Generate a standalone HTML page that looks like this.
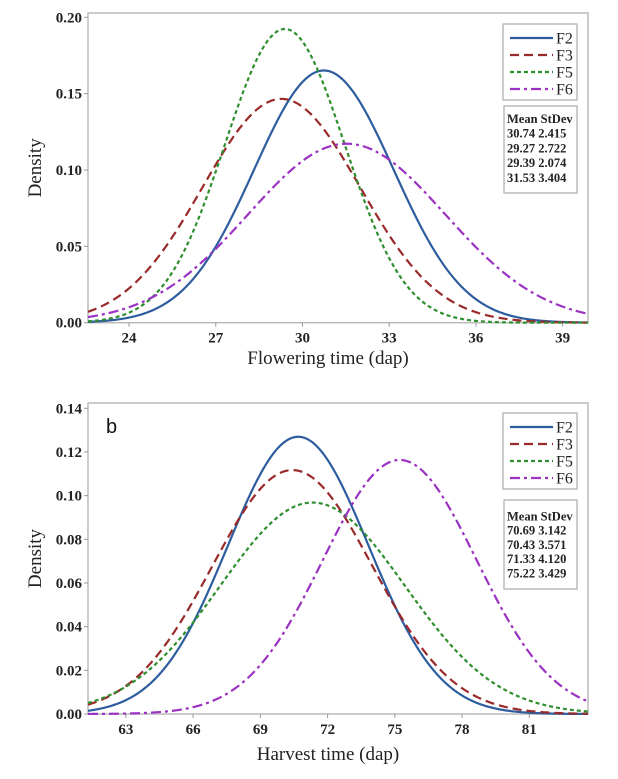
<!DOCTYPE html>
<html><head><meta charset="utf-8">
<style>
html,body{margin:0;padding:0;background:#fff;}
svg{display:block;font-family:"Liberation Serif",serif;}
.tick{font-size:15px;font-weight:bold;fill:#222;}
.ttl{font-size:19px;fill:#222;}
.leg{font-size:16px;fill:#222;}
.st{font-size:12.5px;font-weight:bold;fill:#222;}
</style></head>
<body>
<svg id="c" width="618" height="779" viewBox="0 0 618 779"></svg>
<script>
// Panel a (flowering time)
const seriesNames = ["F2","F3","F5","F6"];
const meansA = [30.74, 29.27, 29.39, 31.53];
const sdsA = [2.415, 2.722, 2.074, 3.404];
const xTicksA = [24, 27, 30, 33, 36, 39];
const yTicksA = [0.00, 0.05, 0.10, 0.15, 0.20];
// Panel b (harvest time)
const meansB = [70.69, 70.43, 71.33, 75.22];
const sdsB = [3.142, 3.571, 4.120, 3.429];
const xTicksB = [63, 66, 69, 72, 75, 78, 81];
const yTicksB = [0.00, 0.02, 0.04, 0.06, 0.08, 0.10, 0.12, 0.14];

const NS = "http://www.w3.org/2000/svg";
const svg = document.getElementById("c");
const colors = ["#2d5d9f","#9a2a2a","#2f8f2f","#9b32c2"];
const dashes = ["", "9,5", "4,3", "10,4,3,4"];

function mk(tag, attrs, parent, text){
  const e = document.createElementNS(NS, tag);
  for (const k in attrs) e.setAttribute(k, attrs[k]);
  if (text !== undefined) e.textContent = text;
  (parent || svg).appendChild(e);
  return e;
}

function panel(cfg){
  const g = mk("g", {});
  
  
  const X = v => cfg.L + (v - cfg.xmin) / (cfg.xmax - cfg.xmin) * (cfg.R - cfg.L);
  const Y = v => cfg.B - (v - 0) / (cfg.ymax - 0) * (cfg.B - cfg.ymaxPx);
  const fr = mk("rect", {x:cfg.L, y:cfg.T, width:cfg.R-cfg.L, height:cfg.B-cfg.T, fill:"none", stroke:"#bbb", "stroke-width":1.5}, g);
  
  
  cfg.yTicks.forEach(v => {
    const y = Y(v);
    mk("line", {x1:cfg.L-4, x2:cfg.L, y1:y, y2:y, stroke:"#999"}, g);
    const t = mk("text", {x:cfg.L-6, y:y+5, "text-anchor":"end", class:"tick"}, g, v.toFixed(2));
    
    
  });
  cfg.xTicks.forEach(v => {
    const x = X(v);
    mk("line", {x1:x, x2:x, y1:cfg.B, y2:cfg.B+4, stroke:"#999"}, g);
    const t = mk("text", {x:x, y:cfg.B+20, "text-anchor":"middle", class:"tick"}, g, String(v));
    
    
  });
  cfg.means.forEach((m, i) => {
    const s = cfg.sds[i];
    let d = "";
    const n = 300;
    for (let k = 0; k <= n; k++){
      const xv = cfg.xmin + (cfg.xmax - cfg.xmin) * k / n;
      const yv = Math.exp(-0.5 * ((xv - m) / s) ** 2) / (s * Math.sqrt(2 * Math.PI));
      d += (k ? "L" : "M") + X(xv).toFixed(2) + "," + Y(yv).toFixed(2);
    }
    const p = mk("path", {d:d, fill:"none", stroke:colors[i], "stroke-width":2.2, "stroke-dasharray":dashes[i]}, g);
    
    
  });
  const xt = mk("text", {x:328, y:cfg.xTitleY, "text-anchor":"middle", class:"ttl"}, g, cfg.xTitle);
  
  
  const yc = (cfg.T + cfg.B) / 2;
  const yt = mk("text", {x:41, y:yc, "text-anchor":"middle", class:"ttl", transform:"rotate(-90 41 "+yc+")"}, g, "Density");
  
  
  const lg = mk("g", {}, g);
  
  
  mk("rect", {x:503, y:cfg.legT, width:74, height:76, fill:"#fff", stroke:"#aaa", "stroke-width":1.2}, lg);
  seriesNames.forEach((nm, i) => {
    const y = cfg.legT + 14 + i * 17;
    const e = mk("g", {}, lg);
    
    
    mk("line", {x1:510, x2:553, y1:y, y2:y, stroke:colors[i], "stroke-width":2.2, "stroke-dasharray":dashes[i]}, e);
    mk("text", {x:556, y:y+5.5, class:"leg"}, e, nm);
  });
  const sb = mk("g", {}, g);
  
  
  mk("rect", {x:504, y:cfg.stT, width:73, height:cfg.stH, fill:"#fff", stroke:"#aaa", "stroke-width":1.2}, sb);
  mk("text", {x:507, y:cfg.stT+cfg.stOff+4, class:"st"}, sb, "Mean StDev");
  cfg.means.forEach((m, i) => {
    mk("text", {x:507, y:cfg.stT+cfg.stOff+4+(i+1)*cfg.stGap, class:"st"}, sb, m.toFixed(2) + " " + cfg.sds[i].toFixed(3));
  });
  return g;
}

panel({name:"panel-a-flowering", L:88, R:588, T:13, B:322.7, ymaxPx:17.3, ymax:0.20,
  xmin:22.58, xmax:39.88, means:meansA, sds:sdsA, xTicks:xTicksA, yTicks:yTicksA,
  xTitle:"Flowering time (dap)", xTitleY:364, legT:24, stT:106, stH:87, stOff:13, stGap:14.7});
panel({name:"panel-b-harvest", L:88, R:588, T:403, B:714, ymaxPx:408.3, ymax:0.14,
  xmin:61.31, xmax:83.62, means:meansB, sds:sdsB, xTicks:xTicksB, yTicks:yTicksB,
  xTitle:"Harvest time (dap)", xTitleY:760, legT:413, stT:500, stH:89, stOff:16.5, stGap:14.2});

const b = mk("text", {x:106, y:433, "font-family":"Liberation Sans, sans-serif", "font-size":"20px", fill:"#111"}, svg, "b");


</script>
</body></html>
